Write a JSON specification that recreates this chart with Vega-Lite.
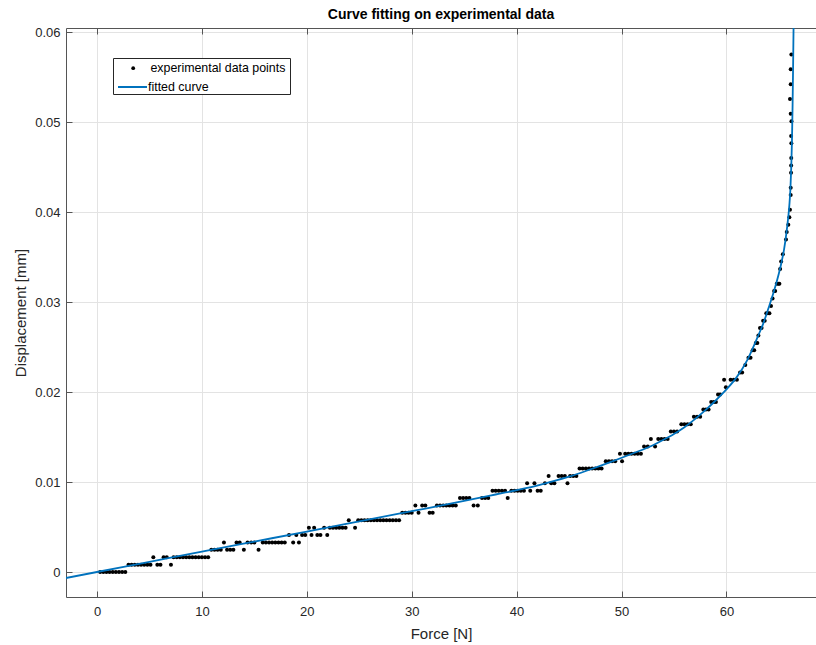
{
  "$schema": "https://vega.github.io/schema/vega-lite/v6.json",
  "width": 750,
  "height": 569,
  "autosize": {"type": "none"},
  "padding": {"left": 66, "top": 28, "right": 0, "bottom": 48},
  "background": "white",
  "config": {"view": {"stroke": null}, "font": "Liberation Sans"},
  "title": {
    "text": "Curve fitting on experimental data",
    "font": "Liberation Sans",
    "fontSize": 14,
    "fontWeight": "bold",
    "color": "#000000",
    "anchor": "middle",
    "baseline": "alphabetic",
    "offset": 10,
    "dy": 17
  },
  "datasets": {
    "points": [
      {"F":0.3,"D":0},{"F":0.6,"D":0},{"F":0.9,"D":0},{"F":1.2,"D":0},{"F":1.5,"D":0},{"F":1.8,"D":0},{"F":2.1,"D":0},{"F":2.4,"D":0},{"F":2.7,"D":0},
      {"F":3.0,"D":0.00082},{"F":3.3,"D":0.00082},{"F":3.6,"D":0.00082},{"F":3.9,"D":0.00082},{"F":4.2,"D":0.00082},{"F":4.5,"D":0.00082},{"F":4.8,"D":0.00082},{"F":5.1,"D":0.00082},
      {"F":5.37,"D":0.00164},{"F":5.75,"D":0.00082},{"F":6.05,"D":0.00082},{"F":6.35,"D":0.00164},{"F":6.65,"D":0.00164},{"F":7.05,"D":0.00082},
      {"F":7.3,"D":0.00164},{"F":7.6,"D":0.00164},{"F":7.9,"D":0.00164},{"F":8.2,"D":0.00164},{"F":8.5,"D":0.00164},{"F":8.8,"D":0.00164},{"F":9.1,"D":0.00164},{"F":9.4,"D":0.00164},{"F":9.7,"D":0.00164},{"F":10.0,"D":0.00164},{"F":10.3,"D":0.00164},{"F":10.6,"D":0.00164},
      {"F":10.9,"D":0.00247},{"F":11.2,"D":0.00247},{"F":11.5,"D":0.00247},{"F":11.8,"D":0.00247},{"F":12.1,"D":0.00329},{"F":12.4,"D":0.00247},{"F":12.7,"D":0.00247},{"F":13.0,"D":0.00247},
      {"F":13.3,"D":0.00329},{"F":13.6,"D":0.00329},{"F":14.0,"D":0.00247},{"F":14.35,"D":0.00329},{"F":14.7,"D":0.00329},{"F":15.0,"D":0.00329},{"F":15.4,"D":0.00247},
      {"F":15.8,"D":0.00329},{"F":16.1,"D":0.00329},{"F":16.4,"D":0.00329},{"F":16.7,"D":0.00329},{"F":17.0,"D":0.00329},{"F":17.3,"D":0.00329},{"F":17.6,"D":0.00329},{"F":17.9,"D":0.00329},
      {"F":18.3,"D":0.00411},{"F":18.7,"D":0.00329},{"F":19.0,"D":0.00411},{"F":19.25,"D":0.00329},{"F":19.55,"D":0.00411},{"F":19.85,"D":0.00411},{"F":20.2,"D":0.00493},{"F":20.45,"D":0.00411},{"F":20.7,"D":0.00493},
      {"F":21.0,"D":0.00411},{"F":21.3,"D":0.00411},{"F":21.65,"D":0.00493},{"F":21.95,"D":0.00411},
      {"F":22.2,"D":0.00493},{"F":22.5,"D":0.00493},{"F":22.8,"D":0.00493},{"F":23.1,"D":0.00493},{"F":23.4,"D":0.00493},{"F":23.7,"D":0.00493},{"F":24.0,"D":0.00575},{"F":24.6,"D":0.00493},
      {"F":24.9,"D":0.00575},{"F":25.2,"D":0.00575},{"F":25.5,"D":0.00575},{"F":25.8,"D":0.00575},{"F":26.1,"D":0.00575},{"F":26.4,"D":0.00575},{"F":26.7,"D":0.00575},{"F":27.0,"D":0.00575},{"F":27.3,"D":0.00575},{"F":27.6,"D":0.00575},{"F":27.9,"D":0.00575},{"F":28.2,"D":0.00575},{"F":28.5,"D":0.00575},{"F":28.8,"D":0.00575},
      {"F":29.1,"D":0.00658},{"F":29.4,"D":0.00658},{"F":29.7,"D":0.00658},{"F":30.0,"D":0.00658},{"F":30.35,"D":0.0074},{"F":30.65,"D":0.00658},{"F":31.0,"D":0.0074},{"F":31.3,"D":0.0074},{"F":31.7,"D":0.00658},{"F":32.0,"D":0.00658},
      {"F":32.4,"D":0.0074},{"F":32.7,"D":0.0074},{"F":33.0,"D":0.0074},{"F":33.3,"D":0.0074},{"F":33.6,"D":0.0074},{"F":33.9,"D":0.0074},{"F":34.2,"D":0.0074},
      {"F":34.6,"D":0.00822},{"F":34.9,"D":0.00822},{"F":35.2,"D":0.00822},{"F":35.5,"D":0.00822},{"F":35.9,"D":0.0074},{"F":36.3,"D":0.0074},{"F":36.7,"D":0.00822},{"F":37.0,"D":0.00822},{"F":37.3,"D":0.00822},
      {"F":37.7,"D":0.00904},{"F":38.0,"D":0.00904},{"F":38.3,"D":0.00904},{"F":38.6,"D":0.00904},{"F":38.9,"D":0.00904},{"F":39.15,"D":0.00822},
      {"F":39.5,"D":0.00904},{"F":39.8,"D":0.00904},{"F":40.1,"D":0.00904},{"F":40.4,"D":0.00904},{"F":40.7,"D":0.00904},{"F":41.0,"D":0.00986},{"F":41.3,"D":0.00904},{"F":41.7,"D":0.00986},{"F":42.0,"D":0.00904},{"F":42.3,"D":0.00904},
      {"F":42.7,"D":0.00986},{"F":43.05,"D":0.01069},{"F":43.3,"D":0.00986},{"F":43.6,"D":0.00986},{"F":44.0,"D":0.01069},{"F":44.3,"D":0.01069},{"F":44.6,"D":0.01069},{"F":44.85,"D":0.00986},{"F":45.1,"D":0.01069},{"F":45.4,"D":0.01069},{"F":45.7,"D":0.01069},
      {"F":46.0,"D":0.01151},{"F":46.3,"D":0.01151},{"F":46.6,"D":0.01151},{"F":46.9,"D":0.01151},{"F":47.2,"D":0.01151},{"F":47.5,"D":0.01151},{"F":47.8,"D":0.01151},{"F":48.1,"D":0.01151},
      {"F":48.5,"D":0.01233},{"F":48.8,"D":0.01233},{"F":49.1,"D":0.01233},{"F":49.4,"D":0.01233},{"F":49.85,"D":0.01315},{"F":50.05,"D":0.01233},
      {"F":50.35,"D":0.01315},{"F":50.65,"D":0.01315},{"F":50.95,"D":0.01315},{"F":51.25,"D":0.01315},{"F":51.55,"D":0.01315},{"F":51.85,"D":0.01315},
      {"F":52.15,"D":0.01397},{"F":52.5,"D":0.01397},{"F":52.8,"D":0.0148},{"F":53.2,"D":0.01397},{"F":53.5,"D":0.0148},{"F":53.8,"D":0.0148},{"F":54.1,"D":0.0148},{"F":54.4,"D":0.0148},
      {"F":54.7,"D":0.01562},{"F":55.0,"D":0.01562},{"F":55.3,"D":0.01562},{"F":55.7,"D":0.01644},{"F":56.0,"D":0.01644},{"F":56.3,"D":0.01644},{"F":56.6,"D":0.01644},
      {"F":56.9,"D":0.01726},{"F":57.2,"D":0.01726},{"F":57.5,"D":0.01726},{"F":57.8,"D":0.01808},{"F":58.05,"D":0.01808},{"F":58.3,"D":0.01808},
      {"F":58.55,"D":0.01891},{"F":58.8,"D":0.01891},{"F":59.0,"D":0.01891},{"F":59.2,"D":0.01973},{"F":59.4,"D":0.01973},{"F":59.78,"D":0.02137},{"F":59.95,"D":0.02055},
      {"F":60.4,"D":0.02137},{"F":60.7,"D":0.02137},{"F":61.0,"D":0.02137},{"F":61.3,"D":0.02219},{"F":61.5,"D":0.02219},{"F":61.8,"D":0.02302},{"F":62.1,"D":0.02384},{"F":62.3,"D":0.02384},
      {"F":62.5,"D":0.02466},{"F":62.65,"D":0.02466},{"F":62.8,"D":0.02548},{"F":62.95,"D":0.02548},{"F":63.05,"D":0.0263},{"F":63.2,"D":0.02713},{"F":63.35,"D":0.02713},
      {"F":63.5,"D":0.02795},{"F":63.65,"D":0.02795},{"F":63.8,"D":0.02877},{"F":63.95,"D":0.02877},{"F":64.1,"D":0.02877},{"F":64.25,"D":0.02959},{"F":64.4,"D":0.03041},
      {"F":64.55,"D":0.03124},{"F":64.65,"D":0.03124},{"F":64.8,"D":0.03206},{"F":64.95,"D":0.03206},{"F":65.05,"D":0.03206},{"F":65.12,"D":0.0337},{"F":65.22,"D":0.03452},{"F":65.38,"D":0.03535},
      {"F":65.68,"D":0.03699},{"F":65.75,"D":0.03781},{"F":65.9,"D":0.03863},{"F":66.0,"D":0.03946},{"F":66.06,"D":0.04028},{"F":66.13,"D":0.04192},{"F":66.13,"D":0.04274},
      {"F":66.16,"D":0.04439},{"F":66.17,"D":0.04521},{"F":66.18,"D":0.04603},{"F":66.19,"D":0.04768},{"F":66.17,"D":0.0485},{"F":66.2,"D":0.05014},{"F":66.13,"D":0.05096},
      {"F":66.06,"D":0.05261},{"F":66.13,"D":0.05425},{"F":66.13,"D":0.0559},{"F":66.19,"D":0.05754}
    ],
    "curve": [
      {"F":-3,"D":-0.00068},{"F":0,"D":0},{"F":5,"D":0.00113},{"F":10,"D":0.00226},{"F":15,"D":0.00338},{"F":20,"D":0.0045},{"F":25,"D":0.00563},{"F":30,"D":0.00676},{"F":35,"D":0.0079},{"F":38,"D":0.00862},{"F":41,"D":0.00935},{"F":43,"D":0.00995},{"F":45,"D":0.0106},{"F":47,"D":0.0114},{"F":49,"D":0.01225},{"F":51,"D":0.01315},{"F":53,"D":0.0141},{"F":54,"D":0.0147},{"F":55,"D":0.01535},{"F":56,"D":0.0161},{"F":57,"D":0.017},{"F":58,"D":0.018},{"F":59,"D":0.0191},{"F":60,"D":0.0203},{"F":61,"D":0.0217},{"F":62,"D":0.0236},{"F":63,"D":0.0262},{"F":63.5,"D":0.0276},{"F":64,"D":0.0293},{"F":64.5,"D":0.0311},{"F":65,"D":0.0332},{"F":65.3,"D":0.0347},{"F":65.5,"D":0.0359},{"F":65.75,"D":0.038},{"F":66,"D":0.0408},{"F":66.1,"D":0.0426},{"F":66.18,"D":0.045},{"F":66.25,"D":0.048},{"F":66.31,"D":0.052},{"F":66.36,"D":0.0565},{"F":66.4,"D":0.0605},{"F":66.44,"D":0.065}
    ]
  },
  "layer": [
    {
      "data": {"name": "points"},
      "mark": {"type": "point", "shape": "circle", "filled": true, "size": 16, "opacity": 1, "clip": true},
      "encoding": {
        "x": {
          "field": "F", "type": "quantitative",
          "scale": {"domain": [-2.955, 68.54], "nice": false, "zero": false},
          "axis": {
            "orient": "bottom",
            "values": [0, 10, 20, 30, 40, 50, 60],
            "title": "Force [N]",
            "titleFont": "Liberation Sans", "titleFontSize": 15, "titleFontWeight": "normal", "titleColor": "#262626", "titlePadding": 8,
            "labelFont": "Liberation Sans", "labelFontSize": 13, "labelColor": "#262626", "labelPadding": 14,
            "tickSize": -6, "tickColor": "#555555", "domainColor": "#555555",
            "grid": true, "gridColor": "#e3e3e3"
          }
        },
        "y": {
          "field": "D", "type": "quantitative",
          "scale": {"domain": [-0.00278, 0.0605], "nice": false, "zero": false},
          "axis": {
            "values": [0, 0.01, 0.02, 0.03, 0.04, 0.05, 0.06],
            "labelExpr": "datum.value == 0 ? '0' : format(datum.value, '.2f')",
            "title": "Displacement [mm]",
            "titleFont": "Liberation Sans", "titleFontSize": 15, "titleFontWeight": "normal", "titleColor": "#262626", "titlePadding": 6,
            "labelFont": "Liberation Sans", "labelFontSize": 13, "labelColor": "#262626", "labelPadding": 12,
            "tickSize": -6, "tickColor": "#555555", "domainColor": "#555555",
            "grid": true, "gridColor": "#e3e3e3"
          }
        },
        "color": {
          "datum": "experimental data points",
          "scale": {"domain": ["experimental data points"], "range": ["#000000"]},
          "legend": {
            "orient": "none", "legendX": 47, "legendY": 30,
            "title": " ",
            "titleOrient": "bottom",
            "titleFontSize": 12,
            "titlePadding": 4,
            "padding": 4,
            "strokeColor": "#262626",
            "fillColor": "white",
            "symbolType": "circle",
            "symbolSize": 14,
            "symbolOffset": 10,
            "labelOffset": 11,
            "labelFont": "Liberation Sans", "labelFontSize": 12.4, "labelColor": "#000000"
          }
        }
      }
    },
    {
      "data": {"name": "curve"},
      "mark": {"type": "line", "strokeWidth": 1.8, "interpolate": "monotone", "clip": true},
      "encoding": {
        "x": {
          "field": "F", "type": "quantitative",
          "scale": {"domain": [-2.955, 68.54], "nice": false, "zero": false},
          "axis": {
            "orient": "top",
            "values": [0, 10, 20, 30, 40, 50, 60],
            "labels": false, "title": null, "grid": false,
            "tickSize": -6, "tickColor": "#555555", "domainColor": "#555555"
          }
        },
        "y": {"field": "D", "type": "quantitative"},
        "color": {
          "datum": "fitted curve",
          "scale": {"domain": ["fitted curve"], "range": ["#0072BD"]},
          "legend": {
            "orient": "none", "legendX": 47, "legendY": 43.5,
            "title": null,
            "padding": 0,
            "symbolType": "stroke",
            "symbolSize": 841,
            "symbolStrokeWidth": 2,
            "symbolOffset": 4,
            "labelOffset": 0,
            "labelFont": "Liberation Sans", "labelFontSize": 12.4, "labelColor": "#000000"
          }
        }
      }
    }
  ],
  "resolve": {"axis": {"x": "independent"}, "scale": {"color": "independent"}}
}
